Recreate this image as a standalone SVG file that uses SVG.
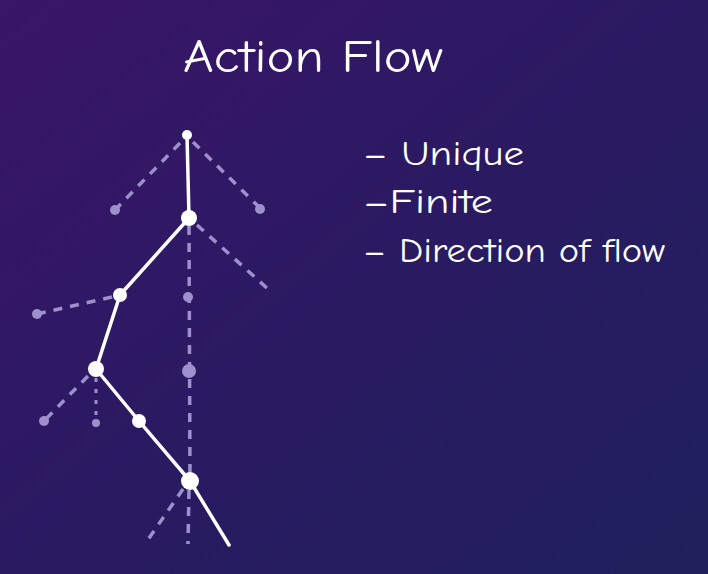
<svg xmlns="http://www.w3.org/2000/svg" width="708" height="574" viewBox="0 0 708 574">
<defs>
<linearGradient id="bg" x1="0" y1="0" x2="1" y2="1">
<stop offset="0" stop-color="#3a1568"/>
<stop offset="0.5" stop-color="#2a1a62"/>
<stop offset="1" stop-color="#1f205c"/>
</linearGradient>
<style>
.t{font-family:"Comic Neue","Liberation Sans",sans-serif;fill:#ffffff}
.solid{fill:none;stroke:#ffffff;stroke-width:3.5;stroke-linecap:round;stroke-linejoin:round}
.dash{fill:none;stroke:#9d90cc;stroke-width:3.5;stroke-dasharray:9 8}
.dot{stroke:#9d90cc;stroke-width:3;stroke-dasharray:4 7}
.wn{fill:#ffffff}
.gn{fill:#9d90cc}
</style>
</defs>
<rect width="708" height="574" fill="url(#bg)"/>
<text class="t" x="183" y="72" font-size="46" textLength="260" lengthAdjust="spacingAndGlyphs">Action Flow</text>
<text class="t" x="363" y="165" font-size="34" textLength="161" lengthAdjust="spacingAndGlyphs">– Unique</text>
<text class="t" x="363" y="213" font-size="34" textLength="130" lengthAdjust="spacingAndGlyphs">–Finite</text>
<text class="t" x="363" y="262" font-size="34" textLength="302" lengthAdjust="spacingAndGlyphs">– Direction of flow</text>
<g id="connectors">
<line class="dash" x1="180" y1="143" x2="116" y2="209"/>
<line class="dash" x1="193" y1="142" x2="260" y2="208"/>
<line class="dash" x1="197" y1="225" x2="268" y2="289"/>
<line class="dash" x1="189" y1="226" x2="190" y2="478"/>
<line class="dash" x1="112" y1="297" x2="37" y2="314"/>
<line class="dash" x1="88" y1="376" x2="44" y2="421"/>
<line class="dot" x1="96" y1="378" x2="96" y2="420"/>
<line class="dash" x1="183" y1="489" x2="145" y2="544"/>
<line class="dash" x1="189" y1="490" x2="188" y2="544"/>
<path class="solid" d="M187,135 L189,218 L120,295 L96,369 L139,421 L190,481 L229,545"/>
</g>
<g id="n-top"><circle class="wn" cx="187" cy="135" r="5"/></g>
<g id="n2"><circle class="wn" cx="189" cy="218" r="8"/></g>
<g id="n3"><circle class="wn" cx="120" cy="295" r="7"/></g>
<g id="n4"><circle class="wn" cx="96" cy="369" r="8"/></g>
<g id="n5"><circle class="wn" cx="139" cy="421" r="7"/></g>
<g id="n6"><circle class="wn" cx="190" cy="481" r="9"/></g>
<g id="g1"><circle class="gn" cx="115" cy="210" r="5"/></g>
<g id="g2"><circle class="gn" cx="260" cy="209" r="5"/></g>
<g id="g3"><circle class="gn" cx="188" cy="297" r="5"/></g>
<g id="g4"><circle class="gn" cx="189" cy="371" r="7"/></g>
<g id="g5"><circle class="gn" cx="37" cy="314" r="5"/></g>
<g id="g6"><circle class="gn" cx="44" cy="421" r="5"/></g>
<g id="g7"><circle class="gn" cx="96" cy="423" r="4"/></g>
</svg>
